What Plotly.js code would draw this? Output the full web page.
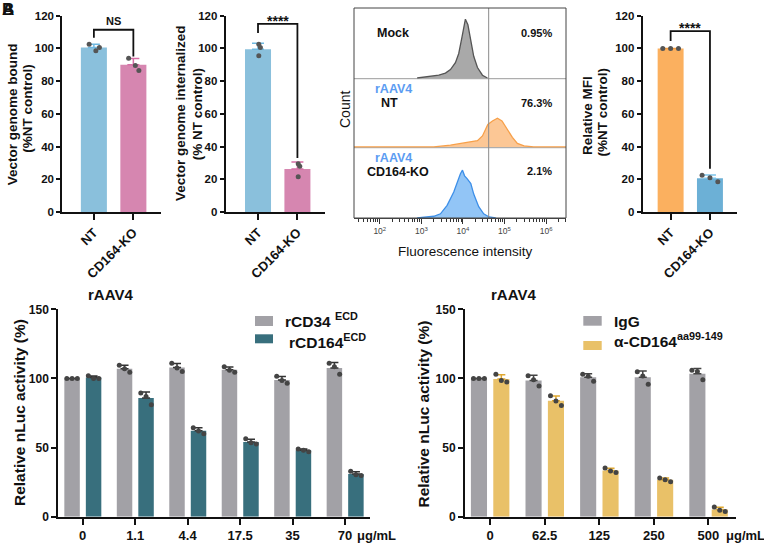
<!DOCTYPE html>
<html><head><meta charset="utf-8">
<script src="https://cdn.plot.ly/plotly-3.0.1.min.js"></script>
<style>html,body{margin:0;padding:0;background:#fff}#chart{width:764px;height:543px}</style>
</head><body><div id="chart"></div>
<script>
// ---------------- DATA ----------------
const koCats = ["NT", "CD164-KO"];
const boundReps = [[102.5, 98.5, 100.5], [94, 89.5, 86.5]];
const internReps = [[102.5, 100.5, 95.5], [29.5, 28, 21.5]];
const mfiReps = [[100, 100, 100], [22.5, 21, 18.5]];

// flow cytometry histograms (log10 fluorescence, % of lane height)
const mockLog = [2.90, 3.22, 3.42, 3.58, 3.70, 3.82, 3.90, 3.98, 4.06, 4.12, 4.19, 4.26, 4.35, 4.47, 4.59];
const mockCnt = [0, 2, 4, 7, 12, 22, 35, 59, 84, 76, 55, 31, 15, 4, 0];
const ntLog = [1.38, 3.30, 3.70, 4.10, 4.35, 4.47, 4.60, 4.71, 4.83, 4.94, 5.07, 5.19, 5.31, 5.47, 5.70, 6.48];
const ntCnt = [0, 0, 2.5, 6, 9, 16, 33, 38, 42, 38, 26, 14, 5, 1.5, 0, 0];
const koLog = [2.90, 3.30, 3.46, 3.62, 3.78, 3.88, 3.94, 3.99, 4.04, 4.10, 4.19, 4.26, 4.38, 4.50, 4.63, 4.79];
const koCnt = [0, 2.5, 6, 18, 37, 54, 63, 68, 60, 56, 49, 34, 16, 6, 1.5, 0];
const flowLabels = ["Mock", "NT", "CD164-KO"];
const flowPct = ["0.95%", "76.3%", "2.1%"];
const gateLog = 4.62;
const decadeVals = [2, 3, 4, 5, 6];
const decadeText = ["10<sup>2</sup>", "10<sup>3</sup>", "10<sup>4</sup>", "10<sup>5</sup>", "10<sup>6</sup>"];

// competition assays
const doses1 = ["0", "1.1", "4.4", "17.5", "35", "70"];
const cd34Reps = [[100,100,100],[109.5,107,104.5],[111,107.5,105],[108.5,106,104.5],[101.5,98.5,96.5],[111,108.5,103]];
const cd164Reps = [[102,100,100],[89.5,87,81],[64.3,62,60],[56.3,53.5,52.5],[49,48,47],[32.8,30.3,29.8]];
const doses2 = ["0", "62.5", "125", "250", "500"];
const igGReps = [[100,100,100],[102,99,94.5],[103,101.5,98],[104.8,101.8,95.8],[106,105,99]];
const antiReps = [[103,98.5,97.5],[87.4,83.7,80.5],[35.2,33,32],[28,26.7,25.2],[7,4.6,3.8]];

// ---------------- HELPERS ----------------
const W = 764, H = 543;
const FONT = 'Arial, "Liberation Sans", Helvetica, sans-serif';
const px = p => p / W, py = p => 1 - p / H;
const mean = a => a.reduce((s, v) => s + v, 0) / a.length;
const sd = a => { const m = mean(a); return Math.sqrt(a.reduce((s, v) => s + (v - m) * (v - m), 0) / (a.length - 1)); };
const BF = (size, color) => ({family: FONT, size: size, color: color || '#111', weight: 'bold'});

const traces = [];
const shapes = [];
const annotations = [];
function ann(text, x, y, o) {
  annotations.push(Object.assign({text: text, x: px(x), y: py(y), xref: 'paper', yref: 'paper',
    showarrow: false, xanchor: 'center', yanchor: 'middle', font: BF(12)}, o || {}));
}

function yAxis(top, bottom, range, dtick, fs, anchor, ticklen) {
  return {domain: [py(bottom), py(top)], range: range, tickmode: 'linear', tick0: 0, dtick: dtick,
    showline: true, linecolor: '#111', linewidth: 2, ticks: 'outside', ticklen: ticklen, tickwidth: 2,
    tickcolor: '#111', showgrid: false, zeroline: false, anchor: anchor, tickfont: BF(fs), fixedrange: true};
}
function xAxis(left, right, range, cats, angle, fs, anchor) {
  return {domain: [px(left), px(right)], range: range, tickmode: 'array', tickvals: cats.map((c, i) => i),
    ticktext: cats, tickangle: angle, showline: true, linecolor: '#111', linewidth: 2, ticks: 'outside',
    ticklen: 6, tickwidth: 2, tickcolor: '#111', showgrid: false, zeroline: false, anchor: anchor,
    tickfont: BF(fs), fixedrange: true};
}

// ---------------- TOP BAR PANELS ----------------
function topPanel(reps, colors, capColors, xa, ya, jit) {
  reps.forEach((r, i) => {
    traces.push({type: 'bar', x: [i], y: [mean(r)], width: 0.66, marker: {color: colors[i]},
      error_y: {type: 'data', array: [sd(r)], arrayminus: [0], symmetric: false, color: capColors[i], thickness: 1.5, width: 6},
      xaxis: xa, yaxis: ya, hoverinfo: 'skip'});
    traces.push({type: 'scatter', mode: 'markers', x: r.map((v, k) => i + jit[k]), y: r,
      marker: {color: '#555', size: 5}, xaxis: xa, yaxis: ya, hoverinfo: 'skip'});
  });
}
topPanel(boundReps, ['#8ac0dc', '#d686b0'], ['#6fb8e0', '#d66fa6'], 'x', 'y', [-0.12, 0.05, 0.14]);
topPanel(internReps, ['#8ac0dc', '#d686b0'], ['#6fb8e0', '#d66fa6'], 'x2', 'y2', [0.02, 0.06, 0.02]);
topPanel(mfiReps, ['#fbb05f', '#6cb0d6'], ['#f59a3a', '#7cc4ea'], 'x4', 'y6', [-0.2, 0, 0.2]);

// ---------------- FLOW PANEL ----------------
const flowSets = [[mockLog, mockCnt, '#555555', 'rgba(160,160,160,0.9)', 'y3'],
                  [ntLog, ntCnt, '#f7a04a', 'rgba(252,196,143,0.95)', 'y4'],
                  [koLog, koCnt, '#3d8fe8', 'rgba(140,194,245,0.95)', 'y5']];
flowSets.forEach(s => {
  traces.push({type: 'scatter', mode: 'lines', x: s[0], y: s[1], fill: 'tozeroy', fillcolor: s[3],
    line: {color: s[2], width: 1.3}, xaxis: 'x3', yaxis: s[4], hoverinfo: 'skip'});
});
const minorVals = [];
for (let n = 1; n <= 6; n++) for (let k = 2; k <= 9; k++) { const v = n + Math.log10(k); if (v > 1.38 && v < 6.48) minorVals.push(v); }

// ---------------- BOTTOM GROUPED PANELS ----------------
function grouped(repsA, repsB, colA, colB, capA, capB, xa, ya) {
  [[repsA, colA, capA, -0.35], [repsB, colB, capB, 0.06]].forEach(([reps, col, cap, off]) => {
    traces.push({type: 'bar', x: reps.map((r, i) => i), y: reps.map(mean), offset: off, width: 0.295,
      marker: {color: col}, error_y: {type: 'data', array: reps.map(sd), arrayminus: reps.map(() => 0),
      symmetric: false, color: cap, thickness: 1.5, width: 4}, xaxis: xa, yaxis: ya, hoverinfo: 'skip'});
    const xs = [], ys = [];
    const jit = [-0.1, 0.0, 0.1];
    reps.forEach((r, i) => r.forEach((v, k) => { xs.push(i + off + 0.1475 + jit[k]); ys.push(v); }));
    traces.push({type: 'scatter', mode: 'markers', x: xs, y: ys, marker: {color: '#444', size: 5},
      xaxis: xa, yaxis: ya, hoverinfo: 'skip'});
  });
}
grouped(cd34Reps, cd164Reps, '#a2a1a6', '#386f7d', '#333', '#333', 'x5', 'y7');
grouped(igGReps, antiReps, '#a2a1a6', '#e9c168', '#444', '#e0a830', 'x6', 'y8');

// ---------------- SHAPES ----------------
const blk = {color: '#111', width: 1.8};
shapes.push({type: 'path', xref: 'x', yref: 'y', path: 'M 0,106.5 L 0,111.4 L 1,111.4 L 1,95', line: blk});
shapes.push({type: 'path', xref: 'x2', yref: 'y2', path: 'M 0,109.4 L 0,115 L 1,115 L 1,33', line: blk});
shapes.push({type: 'path', xref: 'x4', yref: 'y6', path: 'M 0,104.5 L 0,110.6 L 1,110.6 L 1,26.5', line: blk});
// flow frame, lane dividers, gate
shapes.push({type: 'line', xref: 'paper', yref: 'paper', x0: px(354), x1: px(566), y0: py(78.7), y1: py(78.7), line: {color: '#9a9a9a', width: 1}, layer: 'below'});
shapes.push({type: 'line', xref: 'paper', yref: 'paper', x0: px(354), x1: px(566), y0: py(147.7), y1: py(147.7), line: {color: '#9a9a9a', width: 1}, layer: 'below'});
shapes.push({type: 'line', xref: 'x3', yref: 'paper', x0: gateLog, x1: gateLog, y0: py(218), y1: py(8), line: {color: '#8a8a8a', width: 1}});
shapes.push({type: 'rect', xref: 'paper', yref: 'paper', x0: px(354), x1: px(566), y0: py(218), y1: py(8), line: {color: '#444', width: 1}});
// legend swatches
shapes.push({type: 'rect', xref: 'paper', yref: 'paper', x0: px(255), x1: px(273), y0: py(326), y1: py(316), line: {width: 0}, fillcolor: '#a2a1a6'});
shapes.push({type: 'rect', xref: 'paper', yref: 'paper', x0: px(255), x1: px(273), y0: py(343.3), y1: py(334.3), line: {width: 0}, fillcolor: '#386f7d'});
shapes.push({type: 'rect', xref: 'paper', yref: 'paper', x0: px(583.3), x1: px(601.7), y0: py(325.7), y1: py(316), line: {width: 0}, fillcolor: '#a2a1a6'});
shapes.push({type: 'rect', xref: 'paper', yref: 'paper', x0: px(583.3), x1: px(601.7), y0: py(350), y1: py(341), line: {width: 0}, fillcolor: '#e9c168'});

// ---------------- ANNOTATIONS ----------------
ann('A', 7.5, 10, {font: BF(17)});
ann('B', 7.5, 10, {font: BF(17)});
const rot = {textangle: -90, font: BF(13.5)};
ann('Vector genome bound', 12.3, 114, rot);
ann('(%NT control)', 27.7, 108, rot);
ann('Vector genome internalized', 180.7, 113.3, rot);
ann('(% NT control)', 197.3, 114, rot);
ann('Relative MFI', 587.3, 115.7, rot);
ann('(%NT control)', 602.3, 112.3, rot);
ann('NS', 113.7, 21, {font: BF(11)});
ann('****', 277.5, 21, {font: BF(14)});
ann('****', 690, 28, {font: BF(14)});
// flow texts
ann(flowLabels[0], 393, 33, {font: BF(12.5)});
ann('rAAV4', 393, 89.3, {font: BF(12.5, '#5b9cf2')});
ann(flowLabels[1], 389, 102.7, {font: BF(12.5)});
ann('rAAV4', 393, 158, {font: BF(12.5, '#5b9cf2')});
ann(flowLabels[2], 398, 172.3, {font: BF(12.5)});
ann(flowPct[0], 554.3, 33, {xanchor: 'right', font: BF(11)});
ann(flowPct[1], 554.3, 102.7, {xanchor: 'right', font: BF(11)});
ann(flowPct[2], 554.3, 170.7, {xanchor: 'right', font: BF(11)});
ann('Count', 345, 110, {textangle: -90, font: {family: FONT, size: 14, color: '#111'}});
ann('Fluorescence intensity', 465, 251, {font: {family: FONT, size: 13.5, color: '#111'}});
// bottom
ann('rAAV4', 110, 295, {font: BF(15)});
ann('rAAV4', 513.5, 295, {font: BF(15)});
ann('Relative nLuc activity (%)', 20, 413, {textangle: -90, font: BF(15.5)});
ann('Relative nLuc activity (%)', 422.5, 414, {textangle: -90, font: BF(15.5)});
ann('rCD34 <sup>ECD</sup>', 283, 320, {xanchor: 'left', font: BF(15.5)});
ann('rCD164<sup>ECD</sup>', 287, 340.5, {xanchor: 'left', font: BF(15.5)});
ann('IgG', 612, 321.5, {xanchor: 'left', font: BF(15.5)});
ann('α-CD164<sup>aa99-149</sup>', 612, 340, {xanchor: 'left', font: BF(15.5)});
ann('μg/mL', 376, 535.7, {font: BF(13)});
ann('μg/mL', 745, 535.7, {font: BF(13)});

// ---------------- LAYOUT ----------------
const lane = [-1.2, 100];
const layout = {
  width: W, height: H, margin: {l: 0, r: 0, t: 0, b: 0}, paper_bgcolor: '#fff', plot_bgcolor: 'rgba(0,0,0,0)',
  showlegend: false, barmode: 'overlay', font: {family: FONT, color: '#111'},
  xaxis: xAxis(62.3, 161, [-0.8, 1.7], koCats, -45, 13, 'y'),
  yaxis: yAxis(15.7, 212, [0, 120], 20, 11.5, 'x', 4),
  xaxis2: xAxis(225.7, 325, [-0.82, 1.7], koCats, -45, 13, 'y2'),
  yaxis2: yAxis(15.7, 212, [0, 120], 20, 11.5, 'x2', 4),
  xaxis4: xAxis(642.7, 736.7, [-0.71, 1.68], koCats, -45, 13, 'y6'),
  yaxis6: yAxis(15.7, 212, [0, 120], 20, 11.5, 'x4', 4),
  xaxis3: {domain: [px(354), px(566)], range: [1.38, 6.48], anchor: 'y5', tickmode: 'array', tickvals: decadeVals,
    ticktext: decadeText, ticks: 'outside', ticklen: 5, tickwidth: 1, tickcolor: '#333', showline: true, linecolor: '#444',
    linewidth: 1, showgrid: false, zeroline: false, tickfont: {family: FONT, size: 8.5, color: '#444'},
    minor: {tickmode: 'array', tickvals: minorVals, ticks: 'outside', ticklen: 3, tickwidth: 1, tickcolor: '#333', showgrid: false},
    fixedrange: true},
  yaxis3: {domain: [py(78.7), py(8)], range: [-1, 100], visible: false, anchor: 'x3'},
  yaxis4: {domain: [py(147.7), py(78.7)], range: lane, visible: false, anchor: 'x3'},
  yaxis5: {domain: [py(218), py(147.7)], range: [0, 100], visible: false, anchor: 'x3'},
  xaxis5: xAxis(58.3, 370, [-0.465, 5.476], doses1, 0, 13, 'y7'),
  yaxis7: yAxis(309.3, 516.7, [0, 150], 50, 12, 'x5', 5),
  xaxis6: xAxis(465, 736, [-0.458, 4.505], doses2, 0, 13, 'y8'),
  yaxis8: yAxis(309.3, 516.7, [0, 150], 50, 12, 'x6', 5),
  shapes: shapes, annotations: annotations
};
Plotly.newPlot('chart', traces, layout, {staticPlot: true, displayModeBar: false});
</script></body></html>
